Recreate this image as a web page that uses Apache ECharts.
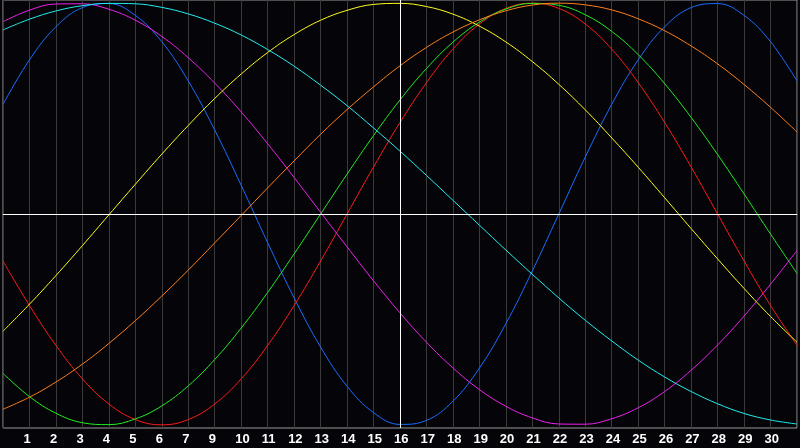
<!DOCTYPE html>
<html>
<head>
<meta charset="utf-8">
<title>Biorhythm</title>
<script src="https://cdn.jsdelivr.net/npm/echarts@6/dist/echarts.min.js"></script>
<style>
  html, body { margin: 0; padding: 0; background: #050409; }
  #chart { width: 800px; height: 448px; }
</style>
</head>
<body>
<div id="chart"></div>
<script>
// day positions 0..30 on the grid, labels under grid lines 1..29 (no "8" in the source)
const days = [0, 1, 2, 3, 4, 5, 6, 7, 8, 9, 10, 11, 12, 13, 14, 15, 16, 17, 18, 19, 20, 21, 22, 23, 24, 25, 26, 27, 28, 29, 30];
const dayLabels = ["1", "2", "3", "4", "5", "6", "7", "9", "10", "11", "12", "13", "14", "15", "16", "17", "18", "19", "20", "21", "22", "23", "24", "25", "26", "27", "28", "29", "30"];
const todayPos = 15;

// values, one per grid line
const physical = [0.520, 0.731, 0.888, 0.979, 0.998, 0.942, 0.817, 0.631, 0.398, 0.136, -0.136, -0.398, -0.631, -0.817, -0.942, -0.998, -0.979, -0.888, -0.731, -0.520, -0.270, 0.000, 0.270, 0.520, 0.731, 0.888, 0.979, 0.998, 0.942, 0.817, 0.631];
const emotional = [-0.223, -0.434, -0.623, -0.782, -0.901, -0.975, -1.000, -0.975, -0.901, -0.782, -0.623, -0.434, -0.223, 0.000, 0.223, 0.434, 0.623, 0.782, 0.901, 0.975, 1.000, 0.975, 0.901, 0.782, 0.623, 0.434, 0.223, 0.000, -0.223, -0.434, -0.623];
const intellectual = [-0.756, -0.866, -0.945, -0.990, -0.999, -0.972, -0.910, -0.815, -0.690, -0.541, -0.372, -0.189, 0.000, 0.189, 0.372, 0.541, 0.690, 0.815, 0.910, 0.972, 0.999, 0.990, 0.945, 0.866, 0.756, 0.618, 0.458, 0.282, 0.095, -0.095, -0.282];
const intuitive = [0.912, 0.967, 0.996, 0.997, 0.971, 0.919, 0.842, 0.741, 0.621, 0.484, 0.333, 0.173, 0.008, -0.156, -0.317, -0.469, -0.608, -0.730, -0.833, -0.912, -0.967, -0.996, -0.997, -0.971, -0.919, -0.842, -0.741, -0.621, -0.484, -0.333, -0.173];
const aesthetic = [-0.556, -0.428, -0.292, -0.150, -0.004, 0.141, 0.284, 0.420, 0.548, 0.664, 0.766, 0.851, 0.919, 0.966, 0.994, 0.999, 0.984, 0.948, 0.891, 0.816, 0.723, 0.615, 0.494, 0.361, 0.222, 0.077, -0.069, -0.213, -0.353, -0.486, -0.608];
const awareness = [-0.926, -0.869, -0.797, -0.712, -0.614, -0.506, -0.389, -0.266, -0.137, -0.007, 0.124, 0.252, 0.378, 0.495, 0.603, 0.703, 0.790, 0.863, 0.921, 0.964, 0.991, 1.000, 0.992, 0.968, 0.926, 0.869, 0.797, 0.712, 0.614, 0.506, 0.389];
const spiritual = [0.873, 0.924, 0.963, 0.988, 0.999, 0.997, 0.980, 0.949, 0.905, 0.849, 0.780, 0.701, 0.611, 0.514, 0.408, 0.298, 0.183, 0.065, -0.053, -0.171, -0.286, -0.398, -0.504, -0.602, -0.693, -0.773, -0.842, -0.900, -0.946, -0.977, -0.996];

const curves = [
  { name: "physical", data: physical, color: "#1a6dff" },
  { name: "emotional", data: emotional, color: "#ff1a1a" },
  { name: "intellectual", data: intellectual, color: "#22ee22" },
  { name: "intuitive", data: intuitive, color: "#ee22ee" },
  { name: "aesthetic", data: aesthetic, color: "#ffff1a" },
  { name: "awareness", data: awareness, color: "#ff801a" },
  { name: "spiritual", data: spiritual, color: "#22eeee" },
];

const series = curves.map((c) => ({
  name: c.name,
  type: "line",
  smooth: 0.4,
  symbol: "none",
  silent: true,
  lineStyle: { color: c.color, width: 1 },
  data: days.map((d, i) => [d, c.data[i]]),
}));

// white zero line and "today" line
series[series.length - 1].markLine = {
  silent: true,
  symbol: ["none", "none"],
  label: { show: false },
  lineStyle: { color: "#ffffff", width: 1, type: "solid" },
  data: [{ yAxis: 0 }, { xAxis: todayPos }],
};

const option = {
  backgroundColor: "#050409",
  animation: false,
  grid: {
    left: 0,
    right: 1,
    top: 0,
    bottom: 20,
    show: true,
    backgroundColor: "#050409",
    borderColor: "#9a9a9a",
    borderWidth: 1,
  },
  xAxis: {
    type: "value",
    min: 0,
    max: 30,
    interval: 1,
    axisLine: { show: true, lineStyle: { color: "#9a9a9a" } },
    axisTick: { show: false },
    splitLine: { show: true, lineStyle: { color: "#3a3a3a", width: 1 } },
    axisLabel: {
      color: "#ffffff",
      fontFamily: "Liberation Sans",
      fontWeight: "bold",
      fontSize: 13,
      margin: 5,
      align: "left",
      padding: [0, 0, 0, -6],
      formatter: (v) => dayLabels[v - 1] || "",
    },
  },
  yAxis: {
    type: "value",
    min: -1.015,
    max: 1.015,
    show: false,
    splitLine: { show: false },
  },
  series: series,
};

const chart = echarts.init(document.getElementById("chart"));
chart.setOption(option);
</script>
</body>
</html>
